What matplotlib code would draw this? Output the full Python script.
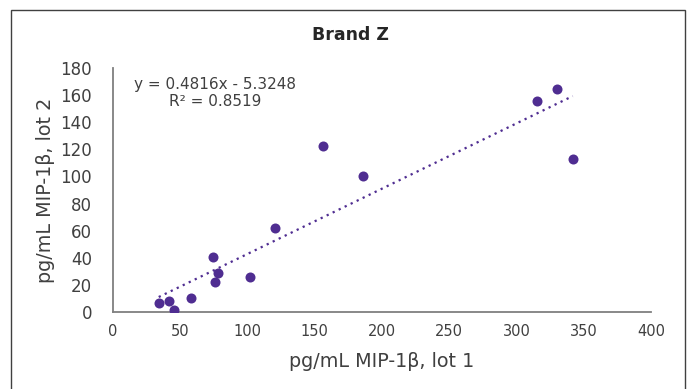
import numpy as np
import matplotlib
matplotlib.use("Agg")
import matplotlib.pyplot as plt
from matplotlib.patches import Rectangle

# values
lot1 = [34, 41.7, 45.7, 58, 74, 78.1, 75.7, 101.7, 120.1, 156, 185.8, 315.3, 330.4, 341.8]
lot2 = [6.9, 7.9, 1.2, 10.1, 40.3, 28.8, 21.9, 25.8, 61.9, 122.6, 100.3, 155.8, 164.2, 112.8]
slope = 0.4816
intercept = -5.3248
r2 = 0.8519

x_ticks = [0, 50, 100, 150, 200, 250, 300, 350, 400]
y_ticks = [0, 20, 40, 60, 80, 100, 120, 140, 160, 180]

purple = "#4F2D91"
txt = "#404040"

fig = plt.figure(figsize=(6.94, 3.89), dpi=100)
ax = fig.add_axes([113 / 694, 77 / 389, 538 / 694, 244 / 389])

# outer chart border
fig.patches.append(Rectangle((11 / 694, -0.05), 674 / 694, (389 - 10) / 389 + 0.05,
                             transform=fig.transFigure, fill=False,
                             edgecolor="#404040", linewidth=1.0))

ax.scatter(lot1, lot2, s=52, color=purple, zorder=3, linewidths=0)

# linear trendline over the data range
tx = np.array([min(lot1), max(lot1)])
ax.plot(tx, slope * tx + intercept, linestyle=(0, (1, 2)), color=purple, linewidth=1.6)

ax.set_xlim(0, 400)
ax.set_ylim(0, 180)
ax.set_xticks(x_ticks)
ax.set_yticks(y_ticks)
ax.tick_params(axis="x", length=0, labelsize=10.5, labelcolor=txt, pad=9)
ax.tick_params(axis="y", length=0, labelsize=12, labelcolor=txt, pad=15)

for s in ["top", "right"]:
    ax.spines[s].set_visible(False)
for s in ["left", "bottom"]:
    ax.spines[s].set_color("#7f7f7f")
    ax.spines[s].set_linewidth(1.3)

ax.set_xlabel("pg/mL MIP-1β, lot 1", fontsize=13.8, color=txt, labelpad=9)
ax.set_ylabel("pg/mL MIP-1β, lot 2", fontsize=13.8, color=txt, labelpad=4)
fig.text(350 / 694, 1 - 35 / 389, "Brand Z", ha="center", va="center",
         fontsize=12.5, fontweight="bold", color="#262626")

fig.text(215 / 694, 1 - 85 / 389, "y = %.4fx - %.4f" % (slope, -intercept),
         ha="center", va="center", fontsize=11, color=txt)
fig.text(215 / 694, 1 - 102 / 389, "R² = %.4f" % r2,
         ha="center", va="center", fontsize=11, color=txt)

fig.savefig("out.png", dpi=100)
